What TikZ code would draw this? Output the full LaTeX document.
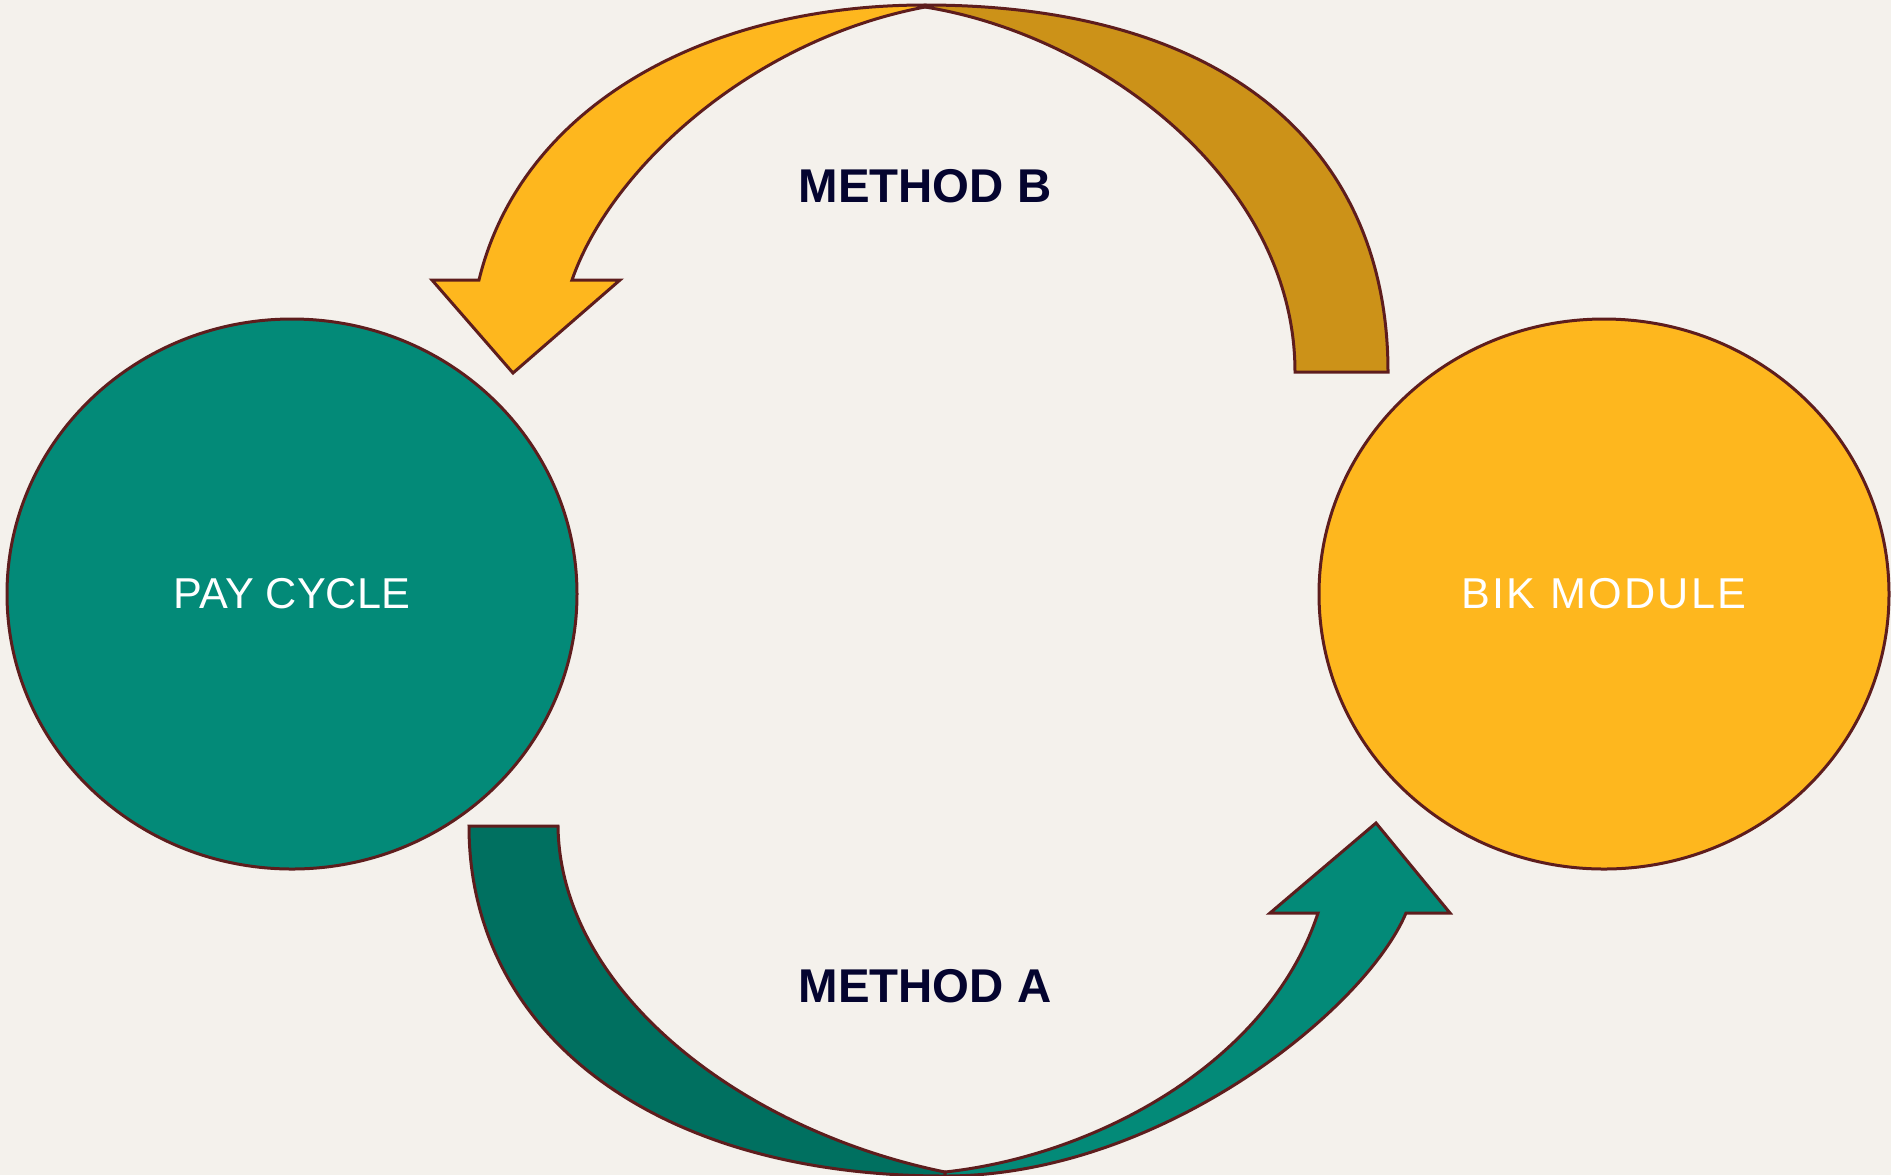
\documentclass[tikz,border=0pt]{standalone}
\usepackage{fontspec}
\setmainfont{Liberation Sans}
\usetikzlibrary{shapes.geometric}

\definecolor{paper}{HTML}{F4F1EC}
\definecolor{cycleteal}{HTML}{038A78}
\definecolor{tailteal}{HTML}{007060}
\definecolor{bikgold}{HTML}{FEB71E}
\definecolor{tailgold}{HTML}{CC9218}
\definecolor{rim}{HTML}{5E1D1D}
\definecolor{ink}{HTML}{04042F}

\begin{document}
\begin{tikzpicture}[x=0.5pt, y=-0.5pt,
  blob/.style={ellipse, draw=rim, line width=1.5pt, minimum width=285pt, minimum height=275pt, inner sep=0pt, text=white, font=\fontsize{21.6}{26}\selectfont},
  band/.style={draw=rim, line width=1.5pt, line join=miter},
  method/.style={text=ink, font=\fontsize{23.7}{28}\selectfont\bfseries}]
\useasboundingbox (0,0) rectangle (1891,1175);
\fill[paper] (0,0) rectangle (1891,1175);
\clip (0,0) rectangle (1891,1175);

\node[blob, fill=cycleteal] (pay) at (292,594) {PAY CYCLE};
\node[blob, fill=bikgold] (bik) at (1604,594) {\addfontfeature{LetterSpace=5.5}BIK MODULE};

% method B, head half then tail half
\filldraw[band, fill=bikgold] (925,5) .. controls (700,5) and (520,110) .. (479,280) -- (432,280) -- (513,373) -- (620,280) -- (572,280) .. controls (610,170) and (750,40) .. (925,7) -- cycle;
\filldraw[band, fill=tailgold] (925,5) .. controls (1225,5) and (1388,147) .. (1388,372) -- (1295,372) .. controls (1295,180) and (1100,35) .. (925,7) -- cycle;

% method A, tail half then head half
\filldraw[band, fill=tailteal] (469,826) -- (558,826) .. controls (560,990) and (740,1130) .. (945,1172) -- (945,1176) .. controls (650,1176) and (469,1030) .. (469,826) -- cycle;
\filldraw[band, fill=cycleteal] (945,1176) .. controls (1160,1176) and (1365,1010) .. (1406,913) -- (1450,913) -- (1376,823) -- (1270,913) -- (1318,913) .. controls (1270,1060) and (1100,1155) .. (945,1172) -- cycle;

\node[method] (methB) at (925,186) {METHOD B};
\node[method] (methA) at (925,986) {METHOD A};
\end{tikzpicture}
\end{document}
